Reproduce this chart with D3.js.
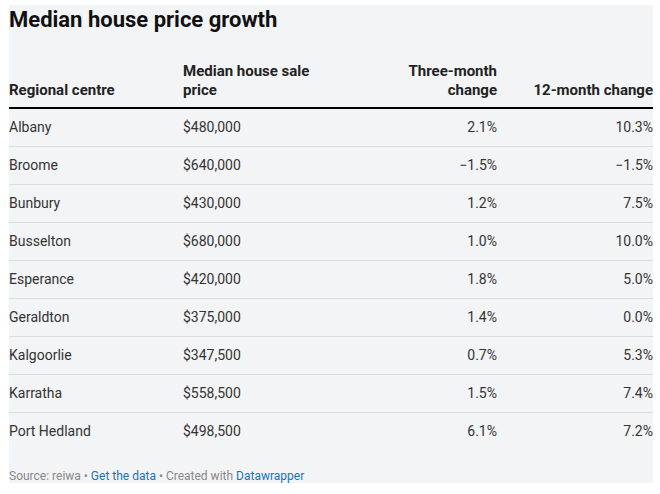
<!DOCTYPE html>
<html><head><meta charset="utf-8">
<script src="https://cdn.jsdelivr.net/npm/d3@7"></script>
<style>
html,body{margin:0;padding:0;background:#fff;}
svg{display:block;font-family:Roboto, "Noto Sans", sans-serif;}
</style></head>
<body><svg id="c" width="660" height="494"></svg>
<script>
const categories = ["Albany","Broome","Bunbury","Busselton","Esperance","Geraldton","Kalgoorlie","Karratha","Port Hedland"];
const prices = ["$480,000","$640,000","$430,000","$680,000","$420,000","$375,000","$347,500","$558,500","$498,500"];
const threeMonth = ["2.1%","\u22121.5%","1.2%","1.0%","1.8%","1.4%","0.7%","1.5%","6.1%"];
const twelveMonth = ["10.3%","\u22121.5%","7.5%","10.0%","5.0%","0.0%","5.3%","7.4%","7.2%"];
const headers = [["Regional centre"],["Median house sale","price"],["Three-month","change"],["12-month change"]];

const svg = d3.select("#c");
const L = 9, R = 653;
svg.append("rect").attr("x",L).attr("y",5).attr("width",R-L).attr("height",478).attr("fill","#f3f4f6");

svg.append("text").attr("x",L).attr("y",27).attr("font-size",22).attr("font-weight",700).attr("fill","#111")
  .text("Median house price growth");

const cols = [{x:L,anchor:"start"},{x:183,anchor:"start"},{x:497,anchor:"end"},{x:R,anchor:"end"}];

headers.forEach((h,i)=>{
  const t = svg.append("text").attr("font-size",15).attr("font-weight",700).attr("fill","#222")
    .attr("text-anchor",cols[i].anchor);
  const n = h.length;
  h.forEach((line,j)=>{
    t.append("tspan").attr("x",cols[i].x).attr("y",95 - (n-1-j)*19.5).text(line);
  });
});

svg.append("line").attr("x1",L).attr("x2",R).attr("y1",108).attr("y2",108).attr("stroke","#000").attr("stroke-width",2);

const y = d3.scaleBand().domain(categories).range([109,451]);
const rows = categories.map((c,i)=>({c, vals:[c,prices[i],threeMonth[i],twelveMonth[i]]}));

const g = svg.selectAll("g.row").data(rows).join("g").attr("class","row");
g.filter((d,i)=>i<rows.length-1).append("line")
  .attr("x1",L).attr("x2",R)
  .attr("y1",d=>Math.round(y(d.c)+y.bandwidth())-0.5).attr("y2",d=>Math.round(y(d.c)+y.bandwidth())-0.5)
  .attr("stroke","#dcdcdc").attr("stroke-width",1);
g.each(function(d){
  const sel = d3.select(this);
  d.vals.forEach((v,i)=>{
    sel.append("text").attr("x",cols[i].x).attr("y",y(d.c)+y.bandwidth()/2+3.5)
      .attr("font-size",14).attr("fill","#333").attr("text-anchor",cols[i].anchor).text(v);
  });
});

const f = svg.append("text").attr("x",L).attr("y",480).attr("font-size",12).attr("fill","#888");
f.append("tspan").text("Source: reiwa \u2022 ");
f.append("tspan").attr("fill","#1a73b8").text("Get the data");
f.append("tspan").text(" \u2022 Created with ");
f.append("tspan").attr("fill","#1a73b8").text("Datawrapper");
</script></body></html>
